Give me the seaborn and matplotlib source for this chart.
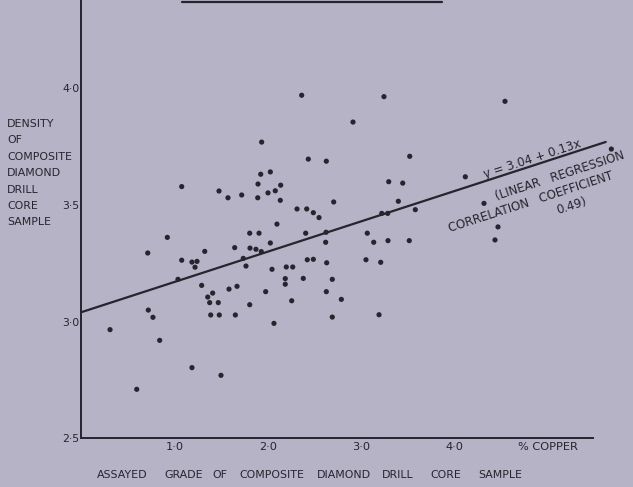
import matplotlib
matplotlib.use("Agg")
import matplotlib.pyplot as plt
import seaborn as sns
import pandas as pd
from matplotlib.lines import Line2D

# ---- data ----
copper_pct = [
    1.075, 1.475, 0.921, 2.361, 1.932, 2.432, 2.625, 1.922, 2.025, 1.893,
    2.136, 1.571, 1.718, 1.890, 2.000, 2.078, 2.132, 2.704, 2.311, 2.415,
    2.486, 2.547, 2.096, 1.804, 1.904, 2.404, 2.622, 3.243, 2.911, 3.519,
    3.294, 3.444, 4.115, 3.397, 3.579, 3.219, 3.283, 3.064, 3.286, 3.514,
    4.540, 5.680, 4.315, 4.465, 4.433, 0.711, 1.075, 1.322, 1.185, 1.239,
    1.218, 1.035, 1.289, 1.407, 1.354, 1.375, 1.467, 1.386, 1.478, 0.717,
    0.767, 0.307, 0.839, 1.185, 0.593, 1.496, 1.643, 1.807, 1.871, 1.928,
    2.025, 2.618, 1.735, 1.764, 2.043, 2.196, 2.265, 2.421, 2.486, 2.629,
    2.185, 2.185, 2.378, 2.689, 1.582, 1.668, 1.975, 2.625, 2.786, 1.804,
    2.254, 1.650, 2.064, 2.689, 3.133, 3.050, 3.208, 3.190,
]
density = [
    3.579, 3.560, 3.361, 3.971, 3.770, 3.697, 3.688, 3.632, 3.642, 3.590,
    3.585, 3.531, 3.543, 3.531, 3.552, 3.561, 3.520, 3.513, 3.483, 3.483,
    3.467, 3.446, 3.418, 3.379, 3.379, 3.379, 3.383, 3.965, 3.856, 3.709,
    3.600, 3.594, 3.621, 3.516, 3.480, 3.464, 3.464, 3.379, 3.347, 3.347,
    3.945, 3.740, 3.507, 3.406, 3.350, 3.294, 3.263, 3.301, 3.255, 3.258,
    3.233, 3.181, 3.155, 3.122, 3.105, 3.081, 3.081, 3.028, 3.028, 3.049,
    3.018, 2.965, 2.919, 2.802, 2.709, 2.769, 3.317, 3.315, 3.310, 3.300,
    3.337, 3.340, 3.271, 3.238, 3.224, 3.234, 3.234, 3.265, 3.267, 3.252,
    3.184, 3.160, 3.185, 3.181, 3.139, 3.151, 3.128, 3.128, 3.095, 3.072,
    3.089, 3.028, 2.992, 3.019, 3.340, 3.265, 3.254, 3.029,
]
reg_intercept = 3.04
reg_slope = 0.13
reg_x_range = [0.0, 5.62]

y_ticks = [2.5, 3.0, 3.5, 4.0]
y_tick_labels = ["2·5", "3·0", "3·5", "4·0"]
x_ticks = [1.0, 2.0, 3.0, 4.0, 5.0]
x_tick_labels = ["1·0", "2·0", "3·0", "4·0", "% COPPER"]

y_title_lines = ["DENSITY", "OF", "COMPOSITE", "DIAMOND", "DRILL", "CORE", "SAMPLE"]
x_title_words = ["ASSAYED", "GRADE", "OF", "COMPOSITE", "DIAMOND", "DRILL",
                 "CORE", "SAMPLE"]

df = pd.DataFrame({"copper": copper_pct, "density": density})
reg_df = pd.DataFrame({
    "copper": reg_x_range,
    "density": [reg_intercept + reg_slope * v for v in reg_x_range],
})

# ---- styling ----
bg = "#b5b3c5"
ink = "#26252e"
sns.set_style("white")
plt.rcParams["font.family"] = ["DejaVu Sans"]

fig = plt.figure(figsize=(6.33, 4.87), dpi=100, facecolor=bg)
W, H = 633, 487
ax = fig.add_axes([81.4 / W, 49 / H, (W - 81.4) / W, 438 / H])
ax.set_facecolor(bg)

sns.lineplot(data=reg_df, x="copper", y="density", ax=ax, color=ink,
             linewidth=1.6, zorder=2)
sns.scatterplot(data=df, x="copper", y="density", ax=ax, color=ink,
                s=14, edgecolor="none", zorder=3)

ax.set_xlim(0, (W - 81.4) / 93.3)
ax.set_ylim(2.5, 2.5 + 438 / 233)

for s in ["top", "right"]:
    ax.spines[s].set_visible(False)
for s in ["left", "bottom"]:
    ax.spines[s].set_color(ink)
    ax.spines[s].set_linewidth(1.4)
ax.spines["bottom"].set_bounds(0, 5.48)

ax.set_xticks(x_ticks)
ax.set_xticklabels(x_tick_labels)
ax.set_yticks(y_ticks)
ax.set_yticklabels(y_tick_labels)
ax.tick_params(axis="both", direction="in", length=4.5, width=1.3,
               colors=ink, labelsize=7.8)
ax.tick_params(axis="x", labelsize=8.2, pad=3)
ax.tick_params(axis="y", pad=1.5)
ax.set_xlabel("")
ax.set_ylabel("")

# annotations along the regression line
ax.text(4.83, 3.697, "y = 3.04 + 0.13x", rotation=18, rotation_mode="anchor",
        ha="center", va="center", fontsize=8.6, color=ink)
ax.text(5.13, 3.624, "(LINEAR   REGRESSION", rotation=18,
        rotation_mode="anchor", ha="center", va="center", fontsize=8.6,
        color=ink, clip_on=False)
ax.text(4.82, 3.513, "CORRELATION   COEFFICIENT", rotation=18,
        rotation_mode="anchor", ha="center", va="center", fontsize=8.6,
        color=ink)
ax.text(5.25, 3.494, "0.49)", rotation=18, rotation_mode="anchor",
        ha="center", va="center", fontsize=8.6, color=ink)

# y-axis title, one line per row
y_rows = [124, 140.4, 156.8, 173.2, 189.6, 206, 222.4]
for word, yp in zip(y_title_lines, y_rows):
    fig.text(7 / W, 1 - yp / H, word, ha="left", va="center",
             fontsize=7.9, color=ink)

# x-axis title, words spread as in the reference
x_word_left = [97, 164, 212, 239, 317, 382, 430, 478]
for word, xp in zip(x_title_words, x_word_left):
    fig.text(xp / W, 1 - 475 / H, word, ha="left", va="center",
             fontsize=7.9, color=ink)

# partial frame line at top (bottom edge of a title box)
fig.add_artist(Line2D([182 / W, 442 / W], [1 - 1.5 / H, 1 - 1.5 / H],
                      color=ink, linewidth=1.6, transform=fig.transFigure))

fig.savefig("out.png", dpi=100, facecolor=bg)
